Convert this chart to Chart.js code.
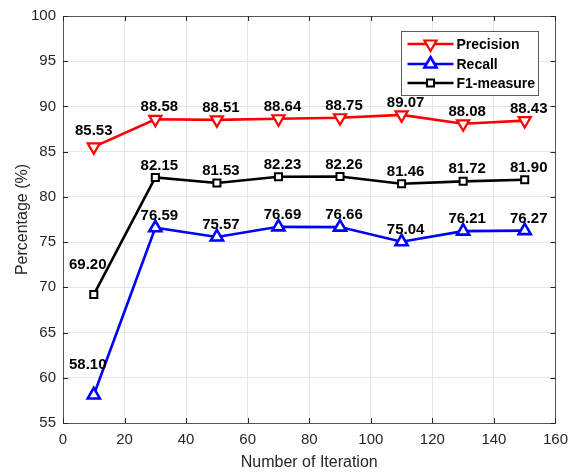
<!DOCTYPE html>
<html>
<head>
<meta charset="utf-8">
<script src="https://cdn.jsdelivr.net/npm/chart.js@4.4.1/dist/chart.umd.min.js"></script>
<style>
  html, body { margin: 0; padding: 0; background: #fff; }
  #wrap { width: 576px; height: 476px; }
</style>
</head>
<body>
<div id="wrap"><canvas id="iterChart" width="576" height="476"></canvas></div>
<script>
// values
const iterations = [10, 30, 50, 70, 90, 110, 130, 150];
const precision = [85.53, 88.58, 88.51, 88.64, 88.75, 89.07, 88.08, 88.43];
const recall = [58.10, 76.59, 75.57, 76.69, 76.66, 75.04, 76.21, 76.27];
const f1 = [69.20, 82.15, 81.53, 82.23, 82.26, 81.46, 81.72, 81.90];
const seriesNames = ['Precision', 'Recall', 'F1-measure'];
const xTicks = [0, 20, 40, 60, 80, 100, 120, 140, 160];
const yTicks = [55, 60, 65, 70, 75, 80, 85, 90, 95, 100];

const FONT = "Arial, 'Liberation Sans', sans-serif";
const AXIS_COLOR = '#262626';

function toPoints(vals) {
    return iterations.map((x, i) => ({x: x, y: vals[i]}));
}

function drawMarker(ctx, style, x, y, r, rotDeg, color, lw) {
    ctx.save();
    ctx.beginPath();
    if (style === 'triangle') {
        let rad = rotDeg * Math.PI / 180;
        ctx.moveTo(x + Math.sin(rad) * r, y - Math.cos(rad) * r);
        rad += 2 * Math.PI / 3;
        ctx.lineTo(x + Math.sin(rad) * r, y - Math.cos(rad) * r);
        rad += 2 * Math.PI / 3;
        ctx.lineTo(x + Math.sin(rad) * r, y - Math.cos(rad) * r);
        ctx.closePath();
    } else {
        const s = Math.SQRT1_2 * r;
        ctx.rect(x - s, y - s, 2 * s, 2 * s);
    }
    ctx.fillStyle = '#ffffff';
    ctx.fill();
    ctx.lineWidth = lw;
    ctx.strokeStyle = color;
    ctx.stroke();
    ctx.restore();
}

// box around the axes + inward ticks (matlab look)
const framePlugin = {
    id: 'frame',
    beforeDatasetsDraw(chart) {
        const {ctx, chartArea: a, scales} = chart;
        const tl = 5;
        ctx.save();
        ctx.strokeStyle = AXIS_COLOR;
        ctx.lineWidth = 1;
        ctx.beginPath();
        xTicks.forEach(v => {
            const px = Math.round(scales.x.getPixelForValue(v)) + 0.5;
            ctx.moveTo(px, a.bottom); ctx.lineTo(px, a.bottom - tl);
            ctx.moveTo(px, a.top); ctx.lineTo(px, a.top + tl);
        });
        yTicks.forEach(v => {
            const py = Math.round(scales.y.getPixelForValue(v)) + 0.5;
            ctx.moveTo(a.left, py); ctx.lineTo(a.left + tl, py);
            ctx.moveTo(a.right, py); ctx.lineTo(a.right - tl, py);
        });
        ctx.stroke();
        ctx.globalAlpha = 0.75;
        ctx.strokeRect(Math.round(a.left) + 0.5, Math.round(a.top) + 0.5,
            Math.round(a.right - a.left), Math.round(a.bottom - a.top));
        ctx.restore();
    }
};

// legend box in the upper right of the axes
const boxLegendPlugin = {
    id: 'boxLegend',
    afterDatasetsDraw(chart) {
        const {ctx, chartArea: a} = chart;
        const w = 137, h = 64;
        const left = a.right - 17 - w;
        const top = a.top + 15;
        ctx.save();
        ctx.fillStyle = '#fff';
        ctx.fillRect(left, top, w, h);
        ctx.strokeStyle = AXIS_COLOR;
        ctx.globalAlpha = 0.75;
        ctx.lineWidth = 1;
        ctx.strokeRect(Math.round(left) + 0.5, Math.round(top) + 0.5, w, h);
        ctx.globalAlpha = 1;
        const rows = [13, 33, 52];
        chart.data.datasets.forEach((ds, di) => {
            const y = top + rows[di];
            ctx.beginPath();
            ctx.strokeStyle = ds.borderColor;
            ctx.lineWidth = ds.borderWidth;
            ctx.moveTo(left + 6, y);
            ctx.lineTo(left + 52, y);
            ctx.stroke();
            drawMarker(ctx, ds.pointStyle, left + 29, y, ds.pointRadius,
                ds.pointRotation, ds.borderColor, ds.pointBorderWidth);
            ctx.fillStyle = '#000';
            ctx.font = 'bold 14px ' + FONT;
            ctx.textAlign = 'left';
            ctx.textBaseline = 'middle';
            ctx.fillText(ds.label, left + 55, y + 1);
        });
        ctx.restore();
    }
};

// numbers above the points
const valueLabelPlugin = {
    id: 'valueLabels',
    afterDatasetsDraw(chart) {
        const ctx = chart.ctx;
        ctx.save();
        ctx.font = 'bold 15px ' + FONT;
        ctx.fillStyle = '#000';
        ctx.textAlign = 'center';
        ctx.textBaseline = 'middle';
        chart.data.datasets.forEach((ds, di) => {
            const meta = chart.getDatasetMeta(di);
            meta.data.forEach((pt, i) => {
                let dx = 4, dy = 12;
                if (i === 0) {
                    dx = ds.firstShift[0];
                    dy = ds.firstShift[1];
                }
                ctx.fillText(ds.data[i].y.toFixed(2), pt.x + dx, pt.y - dy);
            });
        });
        ctx.restore();
    }
};

const ctxIter = document.getElementById('iterChart');
const iterChart = new Chart(ctxIter, {
    type: 'line',
    data: {
        datasets: [{
            label: seriesNames[0],
            data: toPoints(precision),
            borderColor: '#ff0000',
            borderWidth: 2.6,
            pointStyle: 'triangle',
            pointRotation: 180,
            pointRadius: 7,
            pointBorderWidth: 2.2,
            pointBackgroundColor: '#fff',
            firstShift: [0, 16],
            tension: 0
        }, {
            label: seriesNames[1],
            data: toPoints(recall),
            borderColor: '#0000ff',
            borderWidth: 2.6,
            pointStyle: 'triangle',
            pointRotation: 0,
            pointRadius: 7,
            pointBorderWidth: 2.6,
            pointBackgroundColor: '#fff',
            firstShift: [-6, 30],
            tension: 0
        }, {
            label: seriesNames[2],
            data: toPoints(f1),
            borderColor: '#000000',
            borderWidth: 2.6,
            pointStyle: 'rect',
            pointRotation: 0,
            pointRadius: 5,
            pointBorderWidth: 2,
            pointBackgroundColor: '#fff',
            firstShift: [-6, 30],
            tension: 0
        }]
    },
    options: {
        responsive: false,
        animation: false,
        devicePixelRatio: 1,
        layout: {padding: {top: 11, right: 12, left: 0, bottom: 0}},
        plugins: {
            legend: {display: false},
            tooltip: {enabled: false}
        },
        scales: {
            x: {
                type: 'linear',
                min: 0,
                max: 160,
                afterFit: s => { s.height = 53; },
                afterBuildTicks: s => { s.ticks = xTicks.map(v => ({value: v})); },
                grid: {color: '#e6e6e6', drawTicks: false},
                border: {display: false},
                ticks: {
                    padding: 8,
                    color: AXIS_COLOR,
                    font: {family: FONT, size: 15},
                    maxRotation: 0
                },
                title: {
                    display: true,
                    text: 'Number of Iteration',
                    color: AXIS_COLOR,
                    font: {family: FONT, size: 16},
                    padding: {top: 0, bottom: 4}
                }
            },
            y: {
                min: 55,
                max: 100,
                afterFit: s => { s.width = 63; },
                afterBuildTicks: s => { s.ticks = yTicks.map(v => ({value: v})); },
                grid: {color: '#e6e6e6', drawTicks: false},
                border: {display: false},
                ticks: {
                    padding: 7,
                    color: AXIS_COLOR,
                    font: {family: FONT, size: 15}
                },
                title: {
                    display: true,
                    text: 'Percentage (%)',
                    color: AXIS_COLOR,
                    font: {family: FONT, size: 16},
                    padding: {top: 13, bottom: 0}
                }
            }
        }
    },
    plugins: [framePlugin, boxLegendPlugin, valueLabelPlugin]
});
</script>
</body>
</html>
